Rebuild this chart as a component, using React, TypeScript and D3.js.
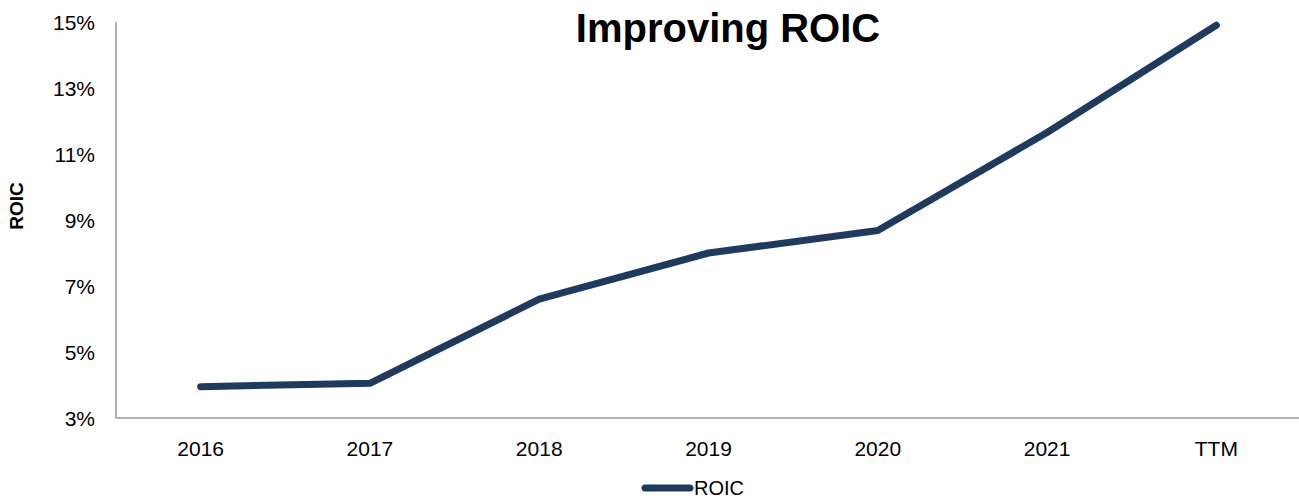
import { useEffect, useRef } from 'react';
import * as d3 from 'd3';

const WIDTH = 1299;
const HEIGHT = 499;
const LINE_COLOR = '#1f3a5f';
const FONT = 'Liberation Sans, Arial, sans-serif';

const years = ['2016', '2017', '2018', '2019', '2020', '2021', 'TTM'];
const roic = [3.95, 4.05, 6.6, 8.0, 8.68, 11.65, 14.9];
const yTicks = [3, 5, 7, 9, 11, 13, 15];

const margin = { top: 22, right: 0, bottom: 81, left: 116 };

export default function App() {
  const svgRef = useRef<SVGSVGElement>(null);

  useEffect(() => {
    if (!svgRef.current) return;
    const svg = d3.select(svgRef.current);
    svg.selectAll('*').remove();

    const x0 = margin.left;
    const x1 = 1301;
    const y0 = margin.top;
    const y1 = HEIGHT - margin.bottom;

    const x = d3.scalePoint<string>().domain(years).range([x0, x1]).padding(0.5);
    const y = d3.scaleLinear().domain([3, 15]).range([y1, y0]);

    // axes
    svg.append('line')
      .attr('x1', x0).attr('x2', x0).attr('y1', y0).attr('y2', y1)
      .attr('stroke', '#9a9a9a').attr('stroke-width', 1.5);
    svg.append('line')
      .attr('x1', x0).attr('x2', WIDTH).attr('y1', y1).attr('y2', y1)
      .attr('stroke', '#9a9a9a').attr('stroke-width', 1.5);

    svg.append('g')
      .selectAll('text')
      .data(yTicks)
      .join('text')
      .attr('x', 95)
      .attr('y', (d) => y(d))
      .attr('dy', '0.36em')
      .attr('text-anchor', 'end')
      .attr('font-size', 21)
      .attr('font-family', FONT)
      .attr('fill', '#000')
      .text((d) => `${d}%`);

    svg.append('g')
      .selectAll('text')
      .data(years)
      .join('text')
      .attr('x', (d) => x(d) ?? 0)
      .attr('y', y1 + 38)
      .attr('text-anchor', 'middle')
      .attr('font-size', 21)
      .attr('font-family', FONT)
      .attr('fill', '#000')
      .text((d) => d);

    // y label
    svg.append('text')
      .attr('transform', `translate(23,206) rotate(-90)`)
      .attr('text-anchor', 'middle')
      .attr('font-size', 19)
      .attr('font-weight', 'bold')
      .attr('font-family', FONT)
      .text('ROIC');

    // title
    svg.append('text')
      .attr('x', 728)
      .attr('y', 42)
      .attr('text-anchor', 'middle')
      .attr('font-size', 40)
      .attr('font-weight', 'bold')
      .attr('font-family', FONT)
      .text('Improving ROIC');

    // line
    const line = d3.line<number>()
      .x((_, i) => x(years[i]) ?? 0)
      .y((d) => y(d));
    svg.append('path')
      .datum(roic)
      .attr('d', line)
      .attr('fill', 'none')
      .attr('stroke', LINE_COLOR)
      .attr('stroke-width', 7)
      .attr('stroke-linecap', 'round')
      .attr('stroke-linejoin', 'round');

    // legend
    const lg = svg.append('g');
    lg.append('line')
      .attr('x1', 645).attr('x2', 690).attr('y1', 488).attr('y2', 488)
      .attr('stroke', LINE_COLOR).attr('stroke-width', 7).attr('stroke-linecap', 'round');
    lg.append('text')
      .attr('x', 694)
      .attr('y', 495)
      .attr('font-size', 20)
      .attr('font-family', FONT)
      .text('ROIC');
  }, []);

  return (
    <svg
      ref={svgRef}
      width={WIDTH}
      height={HEIGHT}
      style={{ display: 'block', position: 'absolute', left: 0, top: 0, background: '#fff' }}
    />
  );
}
